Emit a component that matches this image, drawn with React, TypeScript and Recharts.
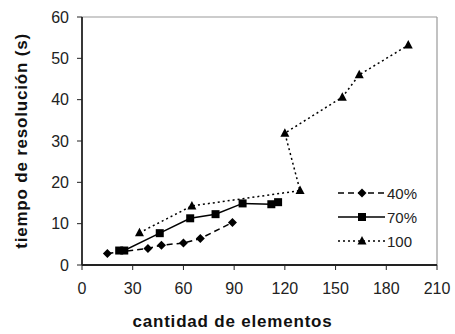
import { LineChart, Line, XAxis, YAxis, ReferenceLine, Legend, Label } from 'recharts'

// cantidad de elementos / tiempo (s), one pair of arrays per series
const x40 = [15, 39, 47, 60, 70, 89]
const y40 = [2.8, 4.0, 4.8, 5.3, 6.4, 10.3]
const x70 = [22, 25, 46, 64, 79, 95, 112, 116]
const y70 = [3.5, 3.5, 7.7, 11.3, 12.3, 14.9, 14.7, 15.2]
const x100 = [34, 65, 129, 120, 154, 164, 193]
const y100 = [7.8, 14.3, 18.0, 31.9, 40.6, 46.0, 53.2]

const seriesNames = ['40%', '70%', '100']
const xTicks = [0, 30, 60, 90, 120, 150, 180, 210]
const yTicks = [0, 10, 20, 30, 40, 50, 60]

const FONT = '"Liberation Sans", Arial, sans-serif'

const zip = (xs: number[], ys: number[]) => xs.map((x, i) => ({ x, y: ys[i] }))

const Diamond = ({ cx, cy }: any) => (
  <path d={`M${cx},${cy - 4.5}L${cx + 4.5},${cy}L${cx},${cy + 4.5}L${cx - 4.5},${cy}Z`} fill="#000" />
)
const Square = ({ cx, cy }: any) => <rect x={cx - 4} y={cy - 4} width={8} height={8} fill="#000" />
const Triangle = ({ cx, cy }: any) => (
  <path d={`M${cx},${cy - 5}L${cx + 4.5},${cy + 3.5}L${cx - 4.5},${cy + 3.5}Z`} fill="#000" />
)

const styles = [
  { dash: '6 4', Shape: Diamond },
  { dash: undefined, Shape: Square },
  { dash: '2 3', Shape: Triangle }
]

const dotFor = (Shape: any) => (p: any) => <Shape key={p.index} cx={p.cx} cy={p.cy} />

// legend keeps the series order (recharts sorts the payload by name)
function LegendBox() {
  return (
    <div style={{ fontFamily: FONT, fontSize: 15, color: '#222' }}>
      {seriesNames.map((name, i) => {
        const { dash, Shape } = styles[i]
        return (
          <div key={name} style={{ display: 'flex', alignItems: 'center', height: 24 }}>
            <svg width={50} height={24}>
              <line x1={2} y1={12} x2={49} y2={12} stroke="#000" strokeWidth={1.5} strokeDasharray={dash} />
              <Shape cx={26} cy={12} />
            </svg>
            <span style={{ marginLeft: 1 }}>{name}</span>
          </div>
        )
      })}
    </div>
  )
}

export default function App() {
  const series = [zip(x40, y40), zip(x70, y70), zip(x100, y100)]
  const tickStyle = { fontFamily: FONT, fontSize: 16, fill: '#222' }

  return (
    <div style={{ position: 'absolute', left: 0, top: 0, background: '#fff' }}>
      <LineChart width={455} height={334} margin={{ top: 17, right: 18, left: 0, bottom: 0 }}>
        <XAxis
          type="number"
          dataKey="x"
          domain={[0, 210]}
          ticks={xTicks}
          interval={0}
          height={69}
          tickSize={5}
          tickMargin={13}
          tick={tickStyle}
          axisLine={{ stroke: '#222', strokeWidth: 1.8 }}
          tickLine={{ stroke: '#222' }}
        >
          <Label
            content={({ viewBox }: any) => (
              <text
                x={viewBox.x + viewBox.width / 2 - 27}
                y={viewBox.y + 62}
                textAnchor="middle"
                fontFamily={FONT}
                fontSize={17}
                fontWeight="bold"
                letterSpacing={0.8}
                fill="#111"
              >
                cantidad de elementos
              </text>
            )}
          />
        </XAxis>
        <YAxis
          type="number"
          dataKey="y"
          domain={[0, 60]}
          ticks={yTicks}
          interval={0}
          width={82}
          tickSize={5}
          tickMargin={8}
          tick={tickStyle}
          axisLine={{ stroke: '#222', strokeWidth: 1.8 }}
          tickLine={{ stroke: '#222' }}
        >
          <Label
            content={({ viewBox }: any) => {
              const cx = viewBox.x + 21
              const cy = viewBox.y + viewBox.height / 2
              return (
                <text
                  x={cx}
                  y={cy}
                  transform={`rotate(-90, ${cx}, ${cy})`}
                  textAnchor="middle"
                  dominantBaseline="central"
                  fontFamily={FONT}
                  fontSize={17}
                  fontWeight="bold"
                  letterSpacing={0.8}
                  fill="#111"
                >
                  tiempo de resolución (s)
                </text>
              )
            }}
          />
        </YAxis>
        <ReferenceLine y={60} stroke="#999" strokeWidth={1.2} />
        <ReferenceLine x={210} stroke="#999" strokeWidth={1.2} />
        {series.map((d, i) => (
          <Line
            key={seriesNames[i]}
            data={d}
            dataKey="y"
            name={seriesNames[i]}
            type="linear"
            stroke="#000"
            strokeWidth={1.5}
            strokeDasharray={styles[i].dash}
            dot={dotFor(styles[i].Shape)}
            activeDot={false}
            isAnimationActive={false}
          />
        ))}
        <Legend
          layout="vertical"
          align="center"
          verticalAlign="middle"
          wrapperStyle={{ left: 336, top: 181, width: 100 }}
          content={<LegendBox />}
        />
      </LineChart>
    </div>
  )
}
